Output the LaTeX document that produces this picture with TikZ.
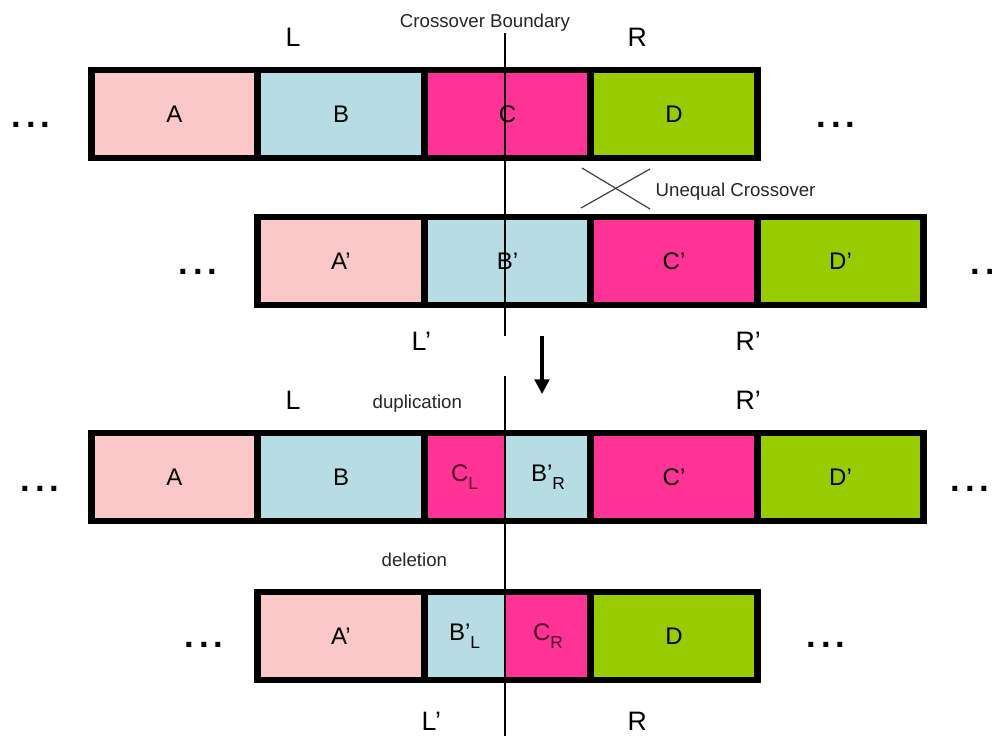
\documentclass[tikz,border=0pt]{standalone}
\usepackage{fontspec}
\setmainfont{Liberation Sans}
\usetikzlibrary{arrows.meta}

\definecolor{cellpink}{RGB}{250,200,200}
\definecolor{cellblue}{RGB}{183,221,228}
\definecolor{cellmag}{RGB}{255,50,150}
\definecolor{cellgreen}{RGB}{153,204,0}
\definecolor{darkmag}{RGB}{75,0,35}

% three bold dots standing for the rest of the chromosome
\newcommand\moredots{\fontsize{26}{26}\selectfont\bfseries .\hspace{3.5pt}.\hspace{3.5pt}.}
% segment name with a lowered subscript
\newcommand\seg[2]{#1\raisebox{-6pt}{\fontsize{13}{13}\selectfont #2}}

\tikzset{
  cell/.style={draw=black, line width=5.2pt, inner sep=0pt,
    minimum height=66pt, font=\fontsize{18}{18}\selectfont},
  full/.style={cell, minimum width=125pt},
  halfcell/.style={inner sep=0pt, minimum height=66pt,
    font=\fontsize{18}{18}\selectfont},
  frame/.style={draw=black, line width=5.2pt},
  endlabel/.style={anchor=base west, font=\fontsize{20}{20}\selectfont},
  note/.style={anchor=base west, font=\fontsize{14}{14}\selectfont, text=black!85},
  etc/.style={anchor=base, inner sep=0pt},
  boundary/.style={draw=black, line width=1pt},
}

\begin{document}
\begin{tikzpicture}[x=0.75pt, y=-0.75pt]
\useasboundingbox (0,0) rectangle (992,736);

% ---- first chromosome: A B C D
\node[full, fill=cellpink]  (r1a) at (174.5,114) {A};
\node[full, fill=cellblue]  (r1b) at (341,114) {B};
\node[full, fill=cellmag]   (r1c) at (507.5,114) {C};
\node[full, fill=cellgreen] (r1d) at (674,114) {D};

% ---- second chromosome: A' B' C' D'
\node[full, fill=cellpink]  (r2a) at (341,261) {A’};
\node[full, fill=cellblue]  (r2b) at (507.5,261) {B’};
\node[full, fill=cellmag]   (r2c) at (674,261) {C’};
\node[full, fill=cellgreen] (r2d) at (840.5,261) {D’};

% ---- duplication product: A B C_L B'_R C' D'
\node[full, fill=cellpink]  (r3a) at (174.5,477) {A};
\node[full, fill=cellblue]  (r3b) at (341,477) {B};
\node[halfcell, fill=cellmag, minimum width=61pt, text=darkmag] (r3cl) at (464.5,477) {\seg{C}{L}};
\node[halfcell, fill=cellblue, minimum width=64pt] (r3br) at (548,477) {\seg{B’}{R}};
\draw[frame] (424.5,433) rectangle (591,521);
\node[full, fill=cellmag]   (r3c) at (674,477) {C’};
\node[full, fill=cellgreen] (r3d) at (840.5,477) {D’};

% ---- deletion product: A' B'_L C_R D
\node[full, fill=cellpink]  (r4a) at (341,636) {A’};
\node[halfcell, fill=cellblue, minimum width=61pt] (r4bl) at (464.5,636) {\seg{B’}{L}};
\node[halfcell, fill=cellmag, minimum width=64pt, text=darkmag] (r4cr) at (548,636) {\seg{C}{R}};
\draw[frame] (424.5,592) rectangle (591,680);
\node[full, fill=cellgreen] (r4d) at (674,636) {D};

% ---- continuation dots
\node[etc] (e1l) at (31,127) {\moredots};
\node[etc] (e1r) at (836,127) {\moredots};
\node[etc] (e2l) at (198,274) {\moredots};
\node[etc] (e2r) at (990,274) {\moredots};
\node[etc] (e3l) at (40,491) {\moredots};
\node[etc] (e3r) at (970,491) {\moredots};
\node[etc] (e4l) at (204,647) {\moredots};
\node[etc] (e4r) at (826,647) {\moredots};

% ---- crossover boundary
\coordinate (bt1) at (505,33);
\coordinate (bb1) at (505,336);
\coordinate (bt2) at (505,376);
\coordinate (bb2) at (505,736);
\draw[boundary] (bt1) -- (bb1);
\draw[boundary] (bt2) -- (bb2);
\node[note, anchor=base] (cb) at (485,27) {Crossover Boundary};

% ---- unequal crossover mark
\coordinate (x1) at (582,168);
\coordinate (x2) at (650,209);
\coordinate (x3) at (581,208);
\coordinate (x4) at (650,169);
\draw[black!75, line width=0.9pt] (x1) -- (x2);
\draw[black!75, line width=0.9pt] (x3) -- (x4);
\node[note] (uc) at (651,196) {Unequal Crossover};

% ---- result arrow
\coordinate (ar1) at (542,336);
\coordinate (ar2) at (542,394);
\draw[line width=2.3pt, -{Triangle[width=11pt,length=11pt]}] (ar1) -- (ar2);

% ---- end labels
\node[endlabel] (l1) at (281,46) {L};
\node[endlabel] (rr1) at (623,46) {R};
\node[endlabel] (l2) at (407,350) {L’};
\node[endlabel] (rr2) at (731,350) {R’};
\node[endlabel] (l3) at (281,409) {L};
\node[note] (dup) at (368,408) {duplication};
\node[endlabel] (rr3) at (731,409) {R’};
\node[note] (del) at (377,566) {deletion};
\node[endlabel] (l4) at (417,730) {L’};
\node[endlabel] (rr4) at (623,730) {R};
\end{tikzpicture}
\end{document}
